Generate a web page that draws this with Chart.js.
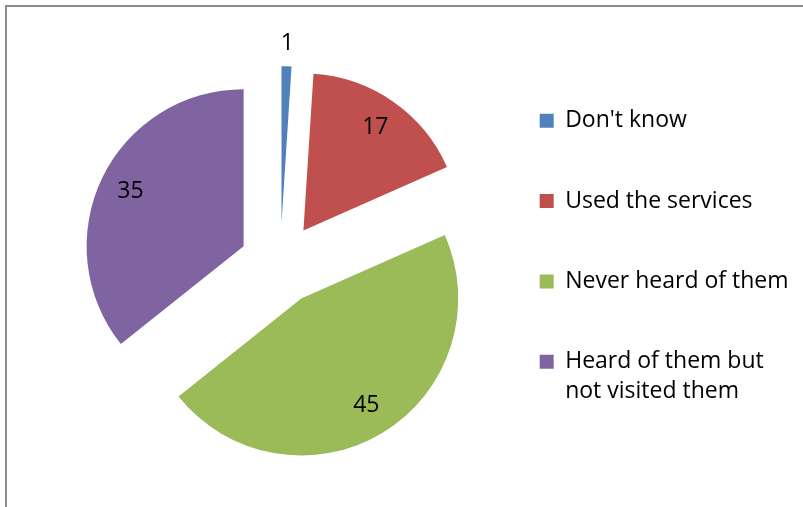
<!DOCTYPE html>
<html>
<head>
<meta charset="utf-8">
<script src="https://cdn.jsdelivr.net/npm/chart.js@4/dist/chart.umd.min.js"></script>
<style>
  html, body { margin: 0; padding: 0; background: #fff; overflow: hidden; }
  #wrap { position: relative; width: 803px; height: 507px; }
  #frame { position: absolute; left: 5px; top: 5px; width: 900px; height: 600px;
           border-top: 2px solid #8c8c8c; border-left: 2px solid #8c8c8c; box-sizing: border-box; }
  canvas { position: absolute; left: 0; top: 0; }
</style>
</head>
<body>
<div id="wrap">
  <div id="frame"></div>
  <canvas id="c" width="803" height="507"></canvas>
</div>
<script>
const categories = ["Don't know", "Used the services", "Never heard of them", ["Heard of them but", "not visited them"]];
const values = [1, 17, 45, 35];
const colors = ["#4F81BD", "#C0504D", "#9BBB59", "#8064A2"];

const FONT = "'Open Sans', 'Liberation Sans', sans-serif";
const EXPLODE = 40.6;

const explodePlugin = {
  id: 'explode',
  afterDatasetUpdate(chart, args) {
    args.meta.data.forEach(arc => {
      const mid = (arc.startAngle + arc.endAngle) / 2;
      arc.x += Math.cos(mid) * EXPLODE;
      arc.y += Math.sin(mid) * EXPLODE;
    });
  }
};

const labelPlugin = {
  id: 'sliceLabels',
  afterDatasetsDraw(chart) {
    const ctx = chart.ctx;
    const meta = chart.getDatasetMeta(0);
    const data = chart.data.datasets[0].data;
    ctx.save();
    ctx.font = "23px " + FONT;
    ctx.fillStyle = "#000";
    ctx.textAlign = "center";
    ctx.textBaseline = "middle";
    meta.data.forEach((arc, i) => {
      const mid = (arc.startAngle + arc.endAngle) / 2;
      const small = (arc.endAngle - arc.startAngle) < 0.2;
      const d = small ? arc.outerRadius + 23 : arc.outerRadius * 0.8;
      ctx.fillText(String(data[i]), arc.x + Math.cos(mid) * d, arc.y + Math.sin(mid) * d);
    });
    ctx.restore();
  }
};

new Chart(document.getElementById('c'), {
  type: 'pie',
  data: {
    labels: categories,
    datasets: [{
      data: values,
      backgroundColor: colors,
      borderWidth: 0
    }]
  },
  options: {
    responsive: false,
    animation: false,
    radius: 157,
    layout: { padding: { left: 78, right: 4.5, top: 52, bottom: 31.4 } },
    plugins: {
      tooltip: { enabled: false },
      legend: {
        position: 'right',
        align: 'start',
        labels: {
          boxWidth: 14,
          boxHeight: 14,
          padding: 57.3,
          color: '#000',
          font: { family: FONT, size: 23, lineHeight: 1.3 }
        }
      }
    }
  },
  plugins: [explodePlugin, labelPlugin]
});
</script>
</body>
</html>
